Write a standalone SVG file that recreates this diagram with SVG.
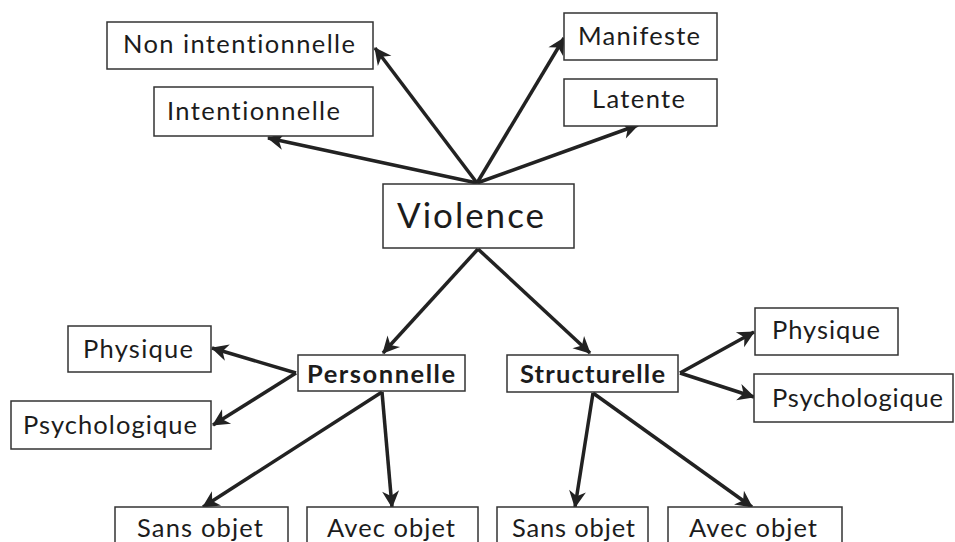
<svg xmlns="http://www.w3.org/2000/svg" width="955" height="542" viewBox="0 0 955 542">
<style>
  .box { fill: #ffffff; stroke: #333333; stroke-width: 1.5; }
  .t { font-family: Lato, "Liberation Sans", sans-serif; font-size: 25.5px; fill: #1c1c1c; font-variant-ligatures: none; }
  .b { font-weight: bold; }
  .big { font-size: 35px; }
  .c { stroke: #222222; stroke-width: 3.5; fill: none; marker-end: url(#ah); }
</style>
<defs>
  <marker id="ah" markerUnits="userSpaceOnUse" markerWidth="20" markerHeight="20" viewBox="-17 -10 20 20" refX="0" refY="0" orient="auto">
    <path d="M1,0 L-16,-8.5 L-11,0 L-16,8.5 Z" fill="#222222"/>
  </marker>
</defs>
<rect width="955" height="542" fill="#ffffff"/>
<g id="connectors">
  <line class="c" x1="477" y1="183" x2="375" y2="48"/>
  <line class="c" x1="477" y1="183" x2="268" y2="138"/>
  <line class="c" x1="477" y1="183" x2="564" y2="38"/>
  <line class="c" x1="477" y1="183" x2="638" y2="125"/>
  <line class="c" x1="478" y1="249" x2="383" y2="353"/>
  <line class="c" x1="478" y1="249" x2="590" y2="353"/>
  <line class="c" x1="296" y1="373" x2="212" y2="348"/>
  <line class="c" x1="296" y1="373" x2="213" y2="425"/>
  <line class="c" x1="382" y1="392" x2="203" y2="507"/>
  <line class="c" x1="382" y1="392" x2="392" y2="507"/>
  <line class="c" x1="680" y1="373" x2="754" y2="332"/>
  <line class="c" x1="680" y1="373" x2="754" y2="397"/>
  <line class="c" x1="593" y1="393" x2="575" y2="507"/>
  <line class="c" x1="593" y1="393" x2="752" y2="507"/>
</g>
<g id="non-intentionnelle">
  <rect class="box" x="107" y="22" width="266" height="47"/>
  <text class="t" x="123" y="53" textLength="232">Non intentionnelle</text>
</g>
<g id="intentionnelle">
  <rect class="box" x="154" y="87" width="219" height="49"/>
  <text class="t" x="167" y="120" textLength="173">Intentionnelle</text>
</g>
<g id="manifeste">
  <rect class="box" x="564" y="13" width="153" height="47"/>
  <text class="t" x="578" y="45" textLength="122">Manifeste</text>
</g>
<g id="latente">
  <rect class="box" x="564" y="79" width="153" height="47"/>
  <text class="t" x="592" y="108" textLength="93">Latente</text>
</g>
<g id="violence">
  <rect class="box" x="383" y="184" width="191" height="64"/>
  <text class="t big" x="397" y="228" textLength="147">Violence</text>
</g>
<g id="personnelle">
  <rect class="box" x="298" y="355" width="167" height="36"/>
  <text class="t b" x="307" y="383" textLength="148">Personnelle</text>
</g>
<g id="structurelle">
  <rect class="box" x="507" y="355" width="171" height="37"/>
  <text class="t b" x="520" y="383" textLength="145">Structurelle</text>
</g>
<g id="physique-p">
  <rect class="box" x="68" y="326" width="143" height="46"/>
  <text class="t" x="83" y="358" textLength="110">Physique</text>
</g>
<g id="psychologique-p">
  <rect class="box" x="11" y="401" width="200" height="48"/>
  <text class="t" x="23" y="434" textLength="174">Psychologique</text>
</g>
<g id="physique-s">
  <rect class="box" x="755" y="308" width="143" height="47"/>
  <text class="t" x="772" y="339" textLength="108">Physique</text>
</g>
<g id="psychologique-s">
  <rect class="box" x="754" y="374" width="199" height="48"/>
  <text class="t" x="772" y="407" textLength="171">Psychologique</text>
</g>
<g id="sans-objet-p">
  <rect class="box" x="115" y="507" width="173" height="50"/>
  <text class="t" x="137" y="537" textLength="126">Sans objet</text>
</g>
<g id="avec-objet-p">
  <rect class="box" x="307" y="507" width="171" height="50"/>
  <text class="t" x="327" y="537" textLength="128">Avec objet</text>
</g>
<g id="sans-objet-s">
  <rect class="box" x="497" y="507" width="151" height="50"/>
  <text class="t" x="512" y="537" textLength="123">Sans objet</text>
</g>
<g id="avec-objet-s">
  <rect class="box" x="668" y="507" width="174" height="50"/>
  <text class="t" x="689" y="537" textLength="128">Avec objet</text>
</g>
</svg>
